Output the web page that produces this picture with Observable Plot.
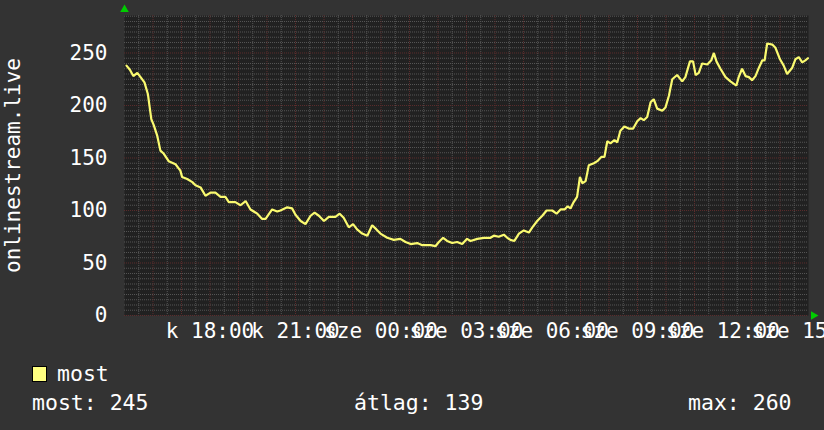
<!DOCTYPE html>
<html>
<head>
<meta charset="utf-8">
<script src="https://cdn.jsdelivr.net/npm/d3@7"></script>
<script src="https://cdn.jsdelivr.net/npm/@observablehq/plot@0.6"></script>
<style>
  html, body { margin: 0; padding: 0; background: #333333; overflow: hidden; }
  #wrap { position: relative; width: 824px; height: 430px; font-family: "DejaVu Sans Mono", monospace; color: #ffffff; }
  #chart svg { display: block; overflow: visible; }
  .lg { position: absolute; font-size: 21.5px; white-space: pre; line-height: 1; }
  .sw { position: absolute; left: 32px; top: 366px; width: 13px; height: 14px; background: #ffff80; border: 1px solid #000; }
</style>
</head>
<body>
<div id="wrap">
  <div id="chart"></div>
  <div class="sw"></div>
  <div class="lg" id="lgName" style="left:57px; top:363px;"></div>
  <div class="lg" id="lgNow" style="left:32px; top:392px;"></div>
  <div class="lg" id="lgAvg" style="left:354px; top:392px;"></div>
  <div class="lg" id="lgMax" style="left:688px; top:392px;"></div>
</div>
<script>
// Time offset in hours from the start (k 15:00) and visitor counts
const hours = [0.07,0.19,0.31,0.45,0.59,0.70,0.82,0.94,1.03,1.15,1.26,1.38,1.55,1.79,1.96,2.02,2.20,2.38,2.49,2.67,2.84,3.02,3.19,3.37,3.54,3.66,3.89,4.07,4.25,4.42,4.66,4.83,4.95,5.18,5.36,5.47,5.71,5.88,6.00,6.18,
  6.35,6.53,6.67,6.82,7.00,7.17,7.40,7.55,7.69,7.87,8.02,8.16,8.34,8.52,8.69,8.84,8.98,9.22,9.45,9.68,9.86,10.04,10.27,10.45,10.74,10.91,11.03,11.18,11.32,11.50,11.67,11.85,12.02,12.14,
  12.38,12.61,12.84,12.96,13.13,13.31,13.43,13.54,13.68,13.84,14.01,14.19,14.31,14.48,14.66,14.81,15.01,15.16,15.30,15.44,15.55,15.65,15.76,15.88,15.98,16.06,16.18,16.29,16.47,16.59,16.73,16.84,16.94,17.05,17.19,17.29,17.40,17.54,17.69,17.85,17.99,
  18.11,18.22,18.34,18.46,18.57,18.69,18.87,18.98,19.10,19.22,19.39,19.57,19.68,19.84,19.95,20.04,20.15,20.27,20.45,20.59,20.68,20.77,20.91,21.09,21.26,21.47,21.55,21.67,21.79,21.91,22.02,22.14,22.26,22.38,22.46,22.55,22.73,22.84,23.00,23.13,23.25,23.43,23.54,23.66,23.78,23.89,23.98];
const visitors = [238,234,228,231,226,222,211,187,181,171,157,154,147,144,138,132,130,127,124,122,114,117,117,113,113,108,108,105,109,101,97,92,92,101,99,100,103,102,96,90,
  87,95,98,95,90,94,94,97,93,84,87,82,78,76,86,82,78,74,72,73,70,68,69,67,67,66,70,74,71,69,70,68,73,71,
  73,74,74,76,75,77,74,72,71,78,81,79,84,90,95,100,100,97,101,101,104,102,108,113,132,126,128,143,145,147,151,151,166,164,167,165,176,180,178,178,185,
  188,186,189,203,206,197,195,198,209,225,229,223,227,242,242,229,231,240,239,243,250,242,235,227,223,219,227,235,228,227,224,228,236,243,243,259,258,255,244,238,230,236,244,246,241,243,245];

const xTickHours = [3, 6, 9, 12, 15, 18, 21, 24];
const xTickLabels = ["k 18:00", "k 21:00", "sze 00:00", "sze 03:00", "sze 06:00", "sze 09:00", "sze 12:00", "sze 15:00"];
const yTicks = [0, 50, 100, 150, 200, 250];
const yTitle = "onlinestream.live";
const seriesName = "most";
const statLabels = ["most", "átlag", "max"];
const statValues = [245, 139, 260];

const data = hours.map((h, i) => ({h, v: visitors[i]}));
const yMax = 285.7;
const minorY = d3.range(0, yMax, 5).filter(d => d % 50 !== 0);
const majorY = d3.range(0, yMax, 50);
const minorX = d3.range(0.5, 24, 1);
const majorX = d3.range(1, 24, 1);

const plot = Plot.plot({
  width: 824,
  height: 345,
  marginLeft: 124,
  marginRight: 16,
  marginTop: 15,
  marginBottom: 30,
  style: {background: "transparent", color: "#ffffff", fontFamily: "DejaVu Sans Mono", fontSize: "21px"},
  x: {domain: [0, 24], axis: null},
  y: {domain: [0, yMax], axis: null},
  marks: [
    Plot.frame({fill: "#212121", stroke: null}),
    Plot.ruleY(minorY, {stroke: "#555555", strokeDasharray: "1,1"}),
    Plot.ruleX(minorX, {stroke: "#555555", strokeDasharray: "1,1"}),
    Plot.ruleY(majorY, {stroke: "#5c2c2c", strokeDasharray: "1,1"}),
    Plot.ruleX(majorX, {stroke: "#5c2c2c", strokeDasharray: "1,1"}),
    Plot.line(data, {x: "h", y: "v", stroke: "#fafa70", strokeWidth: 2.2, strokeLinejoin: "miter"}),
    Plot.axisY({ticks: yTicks, tickSize: 0, tickPadding: 17, fontSize: 21, fill: "#ffffff", label: null}),
    Plot.axisX({ticks: xTickHours, tickSize: 0, tickPadding: 8, fontSize: 21, fill: "#ffffff", label: null,
      tickFormat: d => xTickLabels[xTickHours.indexOf(d)]}),
    Plot.text([yTitle], {frameAnchor: "left", text: d => d, rotate: -90, dx: -111, textAnchor: "middle", lineAnchor: "middle", fontSize: 21, fill: "#ffffff"}),
    Plot.dot([{x: 0, y: yMax}], {x: "x", y: "y", symbol: "triangle", r: 3.2, dy: -6, fill: "#00cc00", stroke: null}),
    Plot.dot([{x: 24, y: 0}], {x: "x", y: "y", symbol: "triangle", r: 3.2, dx: 5, rotate: 90, fill: "#00cc00", stroke: null})
  ]
});
document.getElementById("chart").appendChild(plot);
document.getElementById("lgName").textContent = seriesName;
document.getElementById("lgNow").textContent = `${statLabels[0]}: ${statValues[0]}`;
document.getElementById("lgAvg").textContent = `${statLabels[1]}: ${statValues[1]}`;
document.getElementById("lgMax").textContent = `${statLabels[2]}: ${statValues[2]}`;
</script>
</body>
</html>
